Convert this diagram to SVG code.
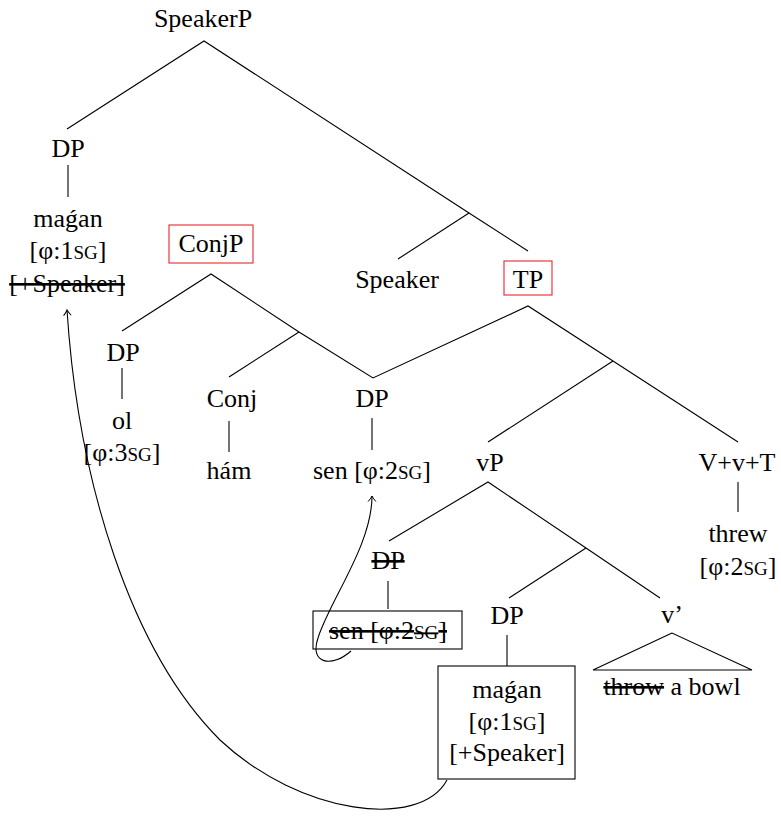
<svg xmlns="http://www.w3.org/2000/svg" width="781" height="820" viewBox="0 0 781 820">
  <style>
    text { font-family: "Liberation Serif", "Times New Roman", serif; font-size: 26px; fill: #000; text-anchor: middle; }
    .sc { font-size: 19px; }
    .del { text-decoration: line-through; }
    .edge { stroke: #000; stroke-width: 1.1; fill: none; }
    .box { stroke: #000; stroke-width: 1.1; fill: none; }
    .hl { stroke: #e8393f; stroke-width: 1.2; fill: none; }
    .move { stroke: #000; stroke-width: 1.1; fill: none; marker-end: url(#tip); }
  </style>
  <defs>
    <marker id="tip" markerUnits="userSpaceOnUse" markerWidth="12" markerHeight="12" refX="0" refY="0" viewBox="-7 -6 9 12" orient="auto">
      <path d="M-5.5,-3.8 Q-1.5,-0.6 0,0 Q-1.5,0.6 -5.5,3.8" stroke="#000" stroke-width="1" fill="none"/>
    </marker>
  </defs>

  <rect width="781" height="820" fill="#fff"/>

  <!-- tree branches -->
  <g id="connectors">
    <polyline class="edge" points="67,129 204,41 469,213 528,251"/>
    <line class="edge" x1="469" y1="213" x2="398" y2="259"/>
    <line class="edge" x1="68" y1="165" x2="68" y2="197"/>
    <polyline class="edge" points="122,331 211,274 299,332 373,378 528,306 613,361 738,442"/>
    <line class="edge" x1="299" y1="332" x2="229" y2="377"/>
    <line class="edge" x1="613" y1="361" x2="488" y2="442"/>
    <line class="edge" x1="122" y1="368" x2="122" y2="399"/>
    <line class="edge" x1="229" y1="421" x2="229" y2="452"/>
    <line class="edge" x1="372" y1="418" x2="372" y2="450"/>
    <line class="edge" x1="738" y1="482" x2="738" y2="512"/>
    <polyline class="edge" points="389,541 488,482 586,548 660,598"/>
    <line class="edge" x1="586" y1="548" x2="509" y2="598"/>
    <line class="edge" x1="388" y1="581" x2="388" y2="609"/>
    <line class="edge" x1="507" y1="635" x2="507" y2="666"/>
    <!-- movement arrows -->
    <path class="move" d="M351,651 C332,668 309,664 318,638 C330,600 372,545 372,496"/>
    <path class="move" d="M447,780 C420,830 300,815 220,740 C130,650 78,480 67,310"/>
  </g>

  <g id="speakerP"><text x="203" y="27">SpeakerP</text></g>
  <g id="dp-magan-top"><text x="68" y="157">DP</text></g>
  <g id="magan-top">
    <text x="68" y="227">maǵan</text>
    <text x="68" y="259">[φ:1<tspan class="sc">SG</tspan>]</text>
    <text x="67" y="292" class="del">[+Speaker]</text>
  </g>
  <g id="speaker"><text x="397" y="288">Speaker</text></g>
  <g id="tp">
    <rect class="hl" x="504" y="261" width="48" height="34"/>
    <text x="528" y="288">TP</text>
  </g>
  <g id="conjP">
    <rect class="hl" x="169" y="225" width="84" height="38"/>
    <text x="211" y="252">ConjP</text>
  </g>
  <g id="dp-ol">
    <text x="123" y="361">DP</text>
    <text x="122" y="429">ol</text>
    <text x="122" y="461">[φ:3<tspan class="sc">SG</tspan>]</text>
  </g>
  <g id="conj">
    <text x="232" y="407">Conj</text>
    <text x="229" y="479">hám</text>
  </g>
  <g id="dp-sen">
    <text x="372" y="407">DP</text>
    <text x="372" y="479">sen [φ:2<tspan class="sc">SG</tspan>]</text>
  </g>
  <g id="vP"><text x="490" y="471">vP</text></g>
  <g id="vvT">
    <text x="737" y="471">V+v+T</text>
    <text x="738" y="542">threw</text>
    <text x="738" y="575">[φ:2<tspan class="sc">SG</tspan>]</text>
  </g>
  <g id="dp-sen-low">
    <text x="388" y="569" class="del">DP</text>
    <rect class="box" x="313" y="611" width="149" height="38"/>
    <text x="388" y="639" class="del">sen [φ:2<tspan class="sc">SG</tspan>]</text>
  </g>
  <g id="dp-magan-low">
    <text x="507" y="624">DP</text>
    <rect class="box" x="438" y="666" width="137" height="113"/>
    <text x="507" y="698">maǵan</text>
    <text x="507" y="730">[φ:1<tspan class="sc">SG</tspan>]</text>
    <text x="507" y="761">[+Speaker]</text>
  </g>
  <g id="vbar">
    <text x="672" y="623">v’</text>
    <polygon class="edge" points="672,633 593,670 752,670"/>
    <text x="672" y="695"><tspan class="del">throw</tspan> a bowl</text>
  </g>
</svg>
